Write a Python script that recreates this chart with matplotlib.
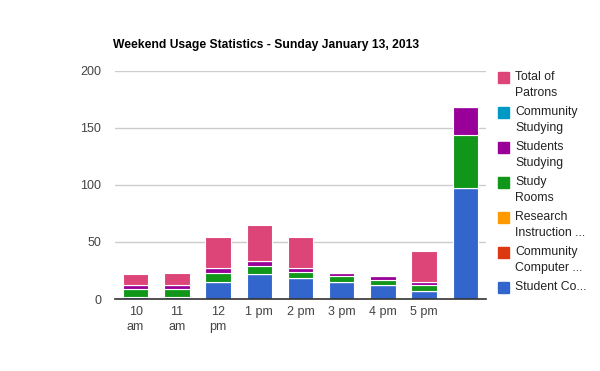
import matplotlib.pyplot as plt
from matplotlib.patches import Rectangle
import numpy as np

plt.rcParams["font.family"] = ["Liberation Sans", "DejaVu Sans"]

# data
hours = ["10\nam", "11\nam", "12\npm", "1 pm", "2 pm", "3 pm", "4 pm", "5 pm", ""]
student_computers = [2, 2, 15, 22, 18, 15, 12, 7, 97]
community_computers = [0, 0, 0, 0, 0, 0, 0, 0, 0]
research_instruction = [0, 0, 0, 0, 0, 0, 0, 0, 0]
study_rooms = [7, 7, 8, 7, 6, 5, 5, 5, 47]
students_studying = [3, 3, 4, 4, 3, 3, 3, 3, 24]
community_studying = [0, 0, 0, 0, 0, 0, 0, 0, 0]
total_patrons = [10, 11, 27, 32, 27, 0, 0, 27, 0]

series = [
    ("Student Co...", student_computers, "#3366cc"),
    ("Community\nComputer ...", community_computers, "#dc3912"),
    ("Research\nInstruction ...", research_instruction, "#ff9900"),
    ("Study\nRooms", study_rooms, "#109618"),
    ("Students\nStudying", students_studying, "#990099"),
    ("Community\nStudying", community_studying, "#0099c6"),
    ("Total of\nPatrons", total_patrons, "#dd4477"),
]

fig = plt.figure(figsize=(6, 3.71), dpi=100)
ax = fig.add_axes([115 / 600, 1 - 299 / 371, 371 / 600, 228 / 371])

x = np.arange(len(hours))
bottom = np.zeros(len(hours))
for name, vals, col in series:
    vals = np.array(vals, dtype=float)
    ax.bar(x, vals, 0.615, bottom=bottom, color=col, edgecolor="white",
           linewidth=0.8, zorder=3)
    bottom += vals

ax.set_xlim(-0.5, len(hours) - 0.5)
ax.set_ylim(0, 200)
ax.set_yticks([0, 50, 100, 150, 200])
ax.set_xticks(x)
ax.set_xticklabels(hours, linespacing=1.35)
ax.tick_params(length=0, labelsize=9, colors="#444444")
ax.tick_params(axis="y", pad=10)
ax.tick_params(axis="x", pad=5)
ax.grid(True, axis="y", color="#cccccc", linewidth=1, zorder=0)
for s in ["top", "right", "left"]:
    ax.spines[s].set_visible(False)
ax.spines["bottom"].set_color("#333333")
ax.spines["bottom"].set_linewidth(1.2)
ax.spines["bottom"].set_zorder(4)

fig.text(113 / 600, 1 - 45 / 371, "Weekend Usage Statistics - Sunday January 13, 2013",
         fontsize=8.7, fontweight="bold", va="center", ha="left")

# legend, drawn by hand (top entry first)
for i, (name, vals, col) in enumerate(series[::-1]):
    yc = 77 + 35 * i
    fig.patches.append(Rectangle((498 / 600, 1 - (yc + 5.5) / 371), 11 / 600, 11 / 371,
                                 transform=fig.transFigure, color=col))
    lines = name.split("\n")
    for j, ln in enumerate(lines):
        fig.text(515 / 600, 1 - (yc + 16 * j) / 371, ln, fontsize=8.8,
                 color="#222222", va="center", ha="left")

plt.savefig("out.png", dpi=100)
